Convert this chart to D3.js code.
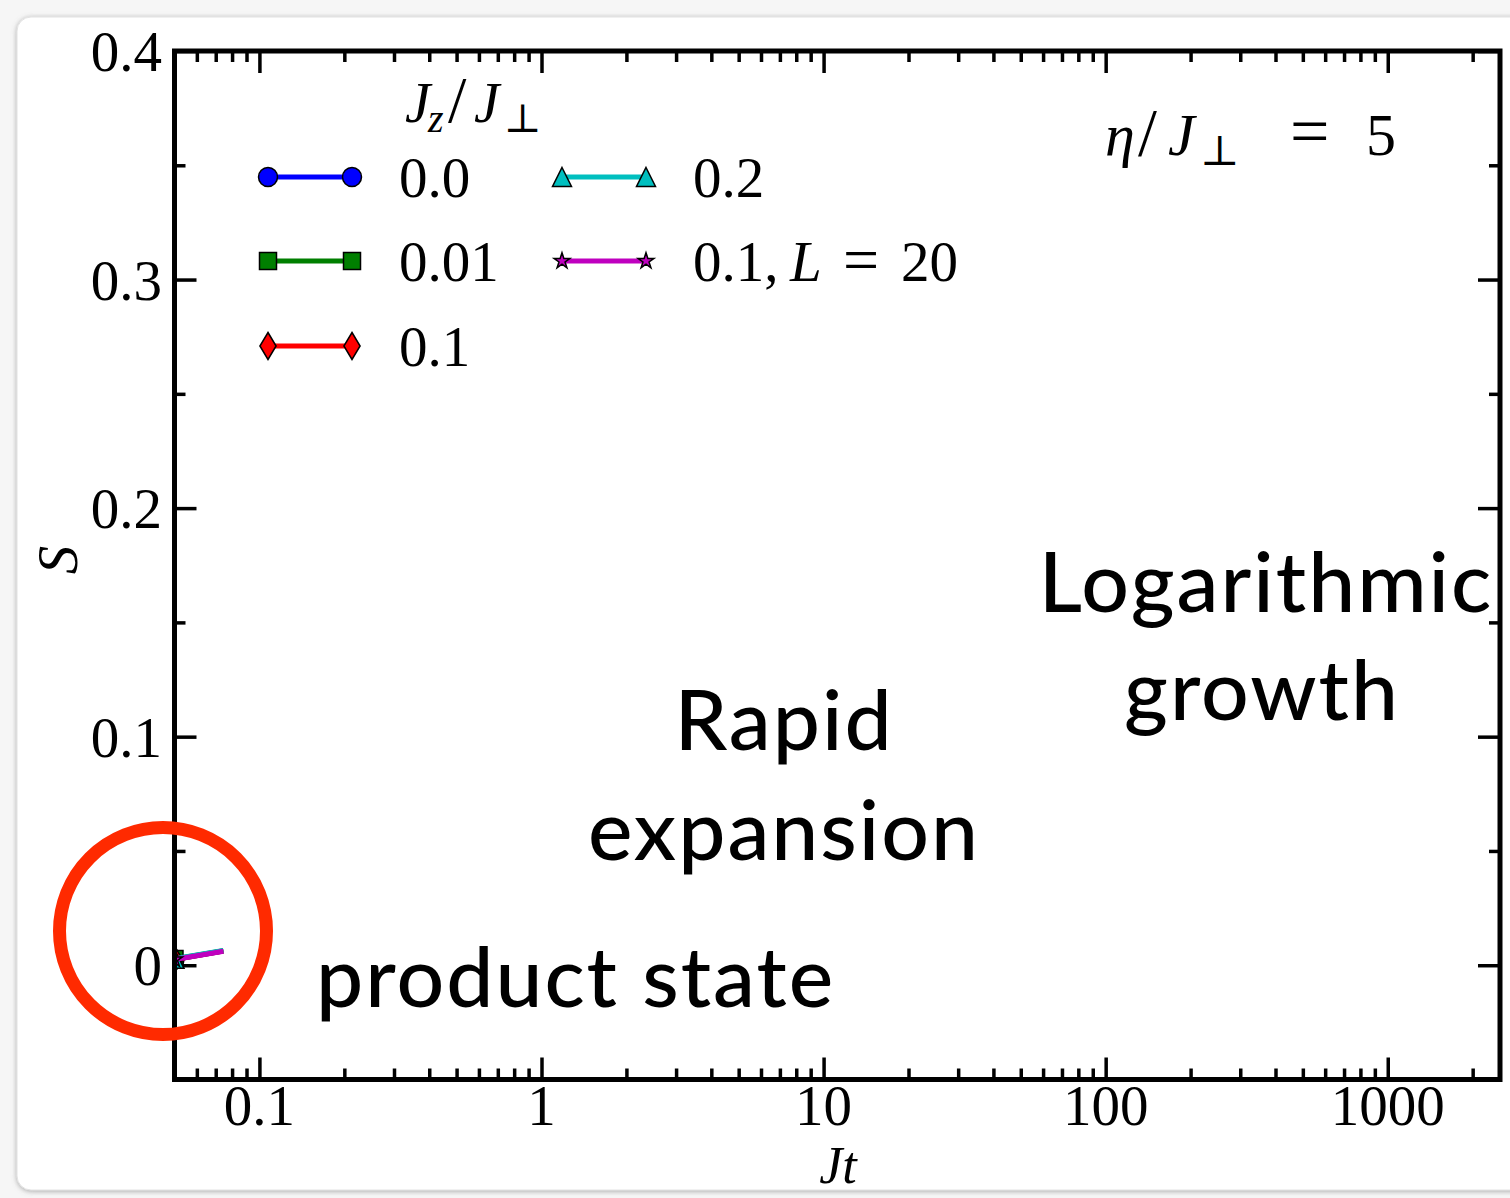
<!DOCTYPE html>
<html>
<head>
<meta charset="utf-8">
<script src="https://cdn.jsdelivr.net/npm/d3@7/dist/d3.min.js"></script>
<style>
  html, body { margin: 0; padding: 0; background: #f4f4f4; }
  svg { display: block; }
  .math { font-family: "Liberation Serif", "DejaVu Serif", serif; }
  .note { font-family: Lato, "Open Sans", sans-serif; font-weight: 500; letter-spacing: 2px; }
</style>
</head>
<body>
<svg id="chart" width="1510" height="1198"></svg>
<script>
// Entanglement entropy S versus Jt, early-time segment only
const series = ["0.0", "0.01", "0.1", "0.2", "0.1, L = 20"];
const seriesColors = ["#0000ff", "#007f00", "#ff0000", "#00bfbf", "#bf00bf"];
const seriesMarkers = ["circle", "square", "thin_diamond", "triangle", "star"];
const timeValues = [0.05, 0.0745];
const entropyValues = [
  [0.0025, 0.0062],
  [0.0027, 0.0063],
  [0.0025, 0.0062],
  [0.0028, 0.0065],
  [0.0025, 0.0061]
];
const xTickValues = [0.1, 1, 10, 100, 1000];
const xTickLabels = ["0.1", "1", "10", "100", "1000"];
const yTickValues = [0, 0.1, 0.2, 0.3, 0.4];
const yTickLabels = ["0", "0.1", "0.2", "0.3", "0.4"];
const yMinorValues = [0.05, 0.15, 0.25, 0.35];
const xDomain = [0.05, 2500];
const yDomain = [-0.05, 0.4];

const svg = d3.select("#chart");

// slide card with soft shadow
const defs = svg.append("defs");
const sh = defs.append("filter").attr("id", "cardShadow")
  .attr("x", "-5%").attr("y", "-5%").attr("width", "110%").attr("height", "110%");
sh.append("feDropShadow").attr("dx", 0).attr("dy", 1).attr("stdDeviation", 2.5)
  .attr("flood-color", "#777").attr("flood-opacity", 0.6);
svg.append("rect").attr("x", 0).attr("y", 0).attr("width", 1510).attr("height", 1198).attr("fill", "#f6f6f6");
svg.append("rect").attr("x", 17).attr("y", 17).attr("width", 1530).attr("height", 1173)
  .attr("rx", 14).attr("fill", "#ffffff").attr("stroke", "#e2e2e2").attr("stroke-width", 1)
  .attr("filter", "url(#cardShadow)");

const plot = { left: 174.5, right: 1500, top: 51, bottom: 1079.5 };
const x = d3.scaleLog().domain(xDomain).range([plot.left, plot.right]);
const y = d3.scaleLinear().domain(yDomain).range([plot.bottom, plot.top]);

defs.append("clipPath").attr("id", "plotClip").append("rect")
  .attr("x", plot.left).attr("y", plot.top)
  .attr("width", plot.right - plot.left).attr("height", plot.bottom - plot.top);

// minor log ticks on the time axis
const xMinor = [];
for (let dec = -2; dec <= 3; dec++) {
  for (let m = 2; m <= 9; m++) {
    const v = m * Math.pow(10, dec);
    if (v > xDomain[0] && v < xDomain[1]) xMinor.push(v);
  }
}

const majorLen = 22, minorLen = 11, tickW = 3.5;
const tickAxis = (axis, len) => g => {
  g.call(axis.tickSize(len).tickFormat(""));
  g.select(".domain").remove();
  g.selectAll(".tick line").attr("stroke", "#000").attr("stroke-width", tickW);
};

// ticks pointing inward on all four sides
svg.append("g").attr("transform", `translate(0,${plot.bottom})`)
  .call(tickAxis(d3.axisTop(x).tickValues(xTickValues), majorLen));
svg.append("g").attr("transform", `translate(0,${plot.bottom})`)
  .call(tickAxis(d3.axisTop(x).tickValues(xMinor), minorLen));
svg.append("g").attr("transform", `translate(0,${plot.top})`)
  .call(tickAxis(d3.axisBottom(x).tickValues(xTickValues), majorLen));
svg.append("g").attr("transform", `translate(0,${plot.top})`)
  .call(tickAxis(d3.axisBottom(x).tickValues(xMinor), minorLen));
svg.append("g").attr("transform", `translate(${plot.left},0)`)
  .call(tickAxis(d3.axisRight(y).tickValues(yTickValues), majorLen));
svg.append("g").attr("transform", `translate(${plot.left},0)`)
  .call(tickAxis(d3.axisRight(y).tickValues(yMinorValues), minorLen));
svg.append("g").attr("transform", `translate(${plot.right},0)`)
  .call(tickAxis(d3.axisLeft(y).tickValues(yTickValues), majorLen));
svg.append("g").attr("transform", `translate(${plot.right},0)`)
  .call(tickAxis(d3.axisLeft(y).tickValues(yMinorValues), minorLen));

// tick labels
const labelSize = 57;
svg.append("g").selectAll("text").data(xTickValues).join("text")
  .attr("class", "math").attr("x", d => x(d)).attr("y", 1125)
  .attr("text-anchor", "middle").attr("font-size", labelSize)
  .text((d, i) => xTickLabels[i]);
svg.append("g").selectAll("text").data(yTickValues).join("text")
  .attr("class", "math").attr("x", 162).attr("y", d => y(d) + 20)
  .attr("text-anchor", "end").attr("font-size", labelSize)
  .text((d, i) => yTickLabels[i]);

// axis titles
svg.append("text").attr("class", "math").attr("x", 838).attr("y", 1183)
  .attr("text-anchor", "middle").attr("font-size", 52).attr("font-style", "italic")
  .text("Jt");
svg.append("text").attr("class", "math")
  .attr("transform", "translate(77,560) rotate(-90)")
  .attr("text-anchor", "middle").attr("font-size", labelSize).attr("font-style", "italic")
  .text("S");

// marker shapes
function markerPath(kind, size) {
  switch (kind) {
    case "circle": return d3.symbol(d3.symbolCircle, size * size * Math.PI / 4)();
    case "square": return d3.symbol(d3.symbolSquare, size * size)();
    case "triangle": {
      const h = size / 2;
      return `M0,${-h}L${h},${h}L${-h},${h}Z`;
    }
    case "thin_diamond": {
      const w = size * 0.3, h = size * 0.5;
      return `M0,${-h}L${w},0L0,${h}L${-w},0Z`;
    }
    case "star": return d3.symbol(d3.symbolStar, size * size * 0.35)();
  }
}
const markerSize = { circle: 19, square: 17, triangle: 19, thin_diamond: 27, star: 15 };

// data lines
const line = d3.line().x(d => x(d[0])).y(d => y(d[1]));
const dataG = svg.append("g").attr("clip-path", "url(#plotClip)");
series.forEach((name, i) => {
  const pts = timeValues.map((t, j) => [t, entropyValues[i][j]]);
  dataG.append("path").datum(pts).attr("d", line)
    .attr("fill", "none").attr("stroke", seriesColors[i]).attr("stroke-width", 5);
  dataG.append("path")
    .attr("transform", `translate(${x(pts[0][0])},${y(pts[0][1])})`)
    .attr("d", markerPath(seriesMarkers[i], markerSize[seriesMarkers[i]]))
    .attr("fill", seriesColors[i]).attr("stroke", "#000").attr("stroke-width", 1.5);
});

// frame
svg.append("rect").attr("x", plot.left).attr("y", plot.top)
  .attr("width", plot.right - plot.left).attr("height", plot.bottom - plot.top)
  .attr("fill", "none").attr("stroke", "#000").attr("stroke-width", 5);

// legend title  J_z / J_perp
const legendTitle = svg.append("text").attr("class", "math").attr("y", 122)
  .attr("font-size", labelSize);
legendTitle.append("tspan").attr("x", 405).attr("font-style", "italic").text("J");
legendTitle.append("tspan").attr("x", 428).attr("font-style", "italic").attr("font-size", 40).attr("dy", 10).text("z");
legendTitle.append("tspan").attr("x", 448).attr("dy", -10).attr("font-size", 66).text("/");
legendTitle.append("tspan").attr("x", 474).attr("font-style", "italic").text("J");
legendTitle.append("tspan").attr("x", 504).attr("font-size", 40).attr("dy", 10).text("⊥");

const legendCols = [268, 562];
const legendRows = [177, 261, 346];
series.forEach((name, i) => {
  const col = i < 3 ? 0 : 1;
  const row = i < 3 ? i : i - 3;
  const x0 = legendCols[col], x1 = x0 + 84, yy = legendRows[row];
  const g = svg.append("g");
  g.append("line").attr("x1", x0).attr("x2", x1).attr("y1", yy).attr("y2", yy)
    .attr("stroke", seriesColors[i]).attr("stroke-width", 5);
  [x0, x1].forEach(px => {
    g.append("path").attr("transform", `translate(${px},${yy})`)
      .attr("d", markerPath(seriesMarkers[i], markerSize[seriesMarkers[i]]))
      .attr("fill", seriesColors[i]).attr("stroke", "#000").attr("stroke-width", 1.5);
  });
  const tx = x1 + 47;
  const t = g.append("text").attr("class", "math").attr("y", yy + 20)
    .attr("font-size", labelSize);
  if (name.includes("L")) {
    t.append("tspan").attr("x", tx).text("0.1,");
    t.append("tspan").attr("x", tx + 97).attr("font-style", "italic").text("L");
    t.append("tspan").attr("x", tx + 150).attr("font-size", 64).text("=");
    t.append("tspan").attr("x", tx + 208).attr("font-size", labelSize).text("20");
  } else {
    t.attr("x", tx).text(name);
  }
});

// parameter annotation  eta / J_perp = 5
const eta = svg.append("text").attr("class", "math").attr("y", 155)
  .attr("font-size", 60);
eta.append("tspan").attr("x", 1105).attr("font-style", "italic").text("η");
eta.append("tspan").attr("x", 1138).attr("font-size", 68).text("/");
eta.append("tspan").attr("x", 1168).attr("font-style", "italic").text("J");
eta.append("tspan").attr("x", 1200).attr("font-size", 42).attr("dy", 10).text("⊥");
eta.append("tspan").attr("x", 1290).attr("dy", -10).attr("font-size", 70).text("=");
eta.append("tspan").attr("x", 1366).attr("font-size", 60).text("5");

// regime notes
const noteSize = 84;
svg.append("text").attr("class", "note").attr("x", 316).attr("y", 1007).attr("font-size", noteSize)
  .text("product state");
svg.append("text").attr("class", "note").attr("x", 784).attr("y", 750).attr("font-size", noteSize)
  .attr("text-anchor", "middle").text("Rapid");
svg.append("text").attr("class", "note").attr("x", 784).attr("y", 860).attr("font-size", noteSize)
  .attr("text-anchor", "middle").text("expansion");
svg.append("text").attr("class", "note").attr("x", 1266).attr("y", 612).attr("font-size", noteSize)
  .attr("text-anchor", "middle").text("Logarithmic");
svg.append("text").attr("class", "note").attr("x", 1262).attr("y", 720).attr("font-size", noteSize)
  .attr("text-anchor", "middle").text("growth");

// highlight ring around the early-time data
svg.append("circle").attr("cx", 163).attr("cy", 931).attr("r", 103.5)
  .attr("fill", "none").attr("stroke", "#ff2a00").attr("stroke-width", 13);
</script>
</body>
</html>
